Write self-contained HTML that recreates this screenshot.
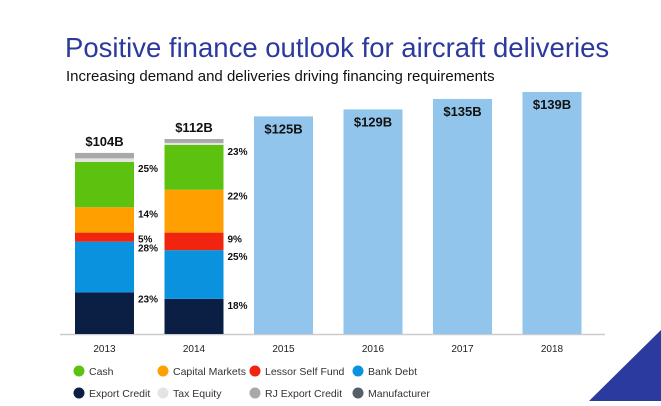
<!DOCTYPE html>
<html><head><meta charset="utf-8"><style>
body{margin:0;width:661px;height:401px;overflow:hidden;background:#fff;font-family:"Liberation Sans",sans-serif}
</style></head><body>
<svg width="661" height="401" xmlns="http://www.w3.org/2000/svg" id="svg">
<text x="65" y="57" font-size="27.5" fill="#2b3a9c">Positive finance outlook for aircraft deliveries</text>
<text x="66" y="81" font-size="15" fill="#111">Increasing demand and deliveries driving financing requirements</text>
<line x1="60" y1="334.5" x2="605" y2="334.5" stroke="#ccc" stroke-width="1.5"/>
<polygon points="589,401 661,330 661,401" fill="#2a3a9e"/>
<g id="bars"></g>
<g id="legend"></g>
</svg>
<script>
const years=["2013","2014","2015","2016","2017","2018"];
const totals=[104,112,125,129,135,139];
const segNames=["Export Credit","Bank Debt","Lessor Self Fund","Capital Markets","Cash","Tax Equity","RJ Export Credit"];
const seg2013=[23,28,5,14,25,2,3];
const seg2014=[18,25,9,22,23,1,2];
const segLabels2013=["23%","28%","5%","14%","25%","",""];
const segLabels2014=["18%","25%","9%","22%","23%","",""];
const legendNames=["Cash","Capital Markets","Lessor Self Fund","Bank Debt","Export Credit","Tax Equity","RJ Export Credit","Manufacturer"];
const colors={"Cash":"#5cc10f","Capital Markets":"#ffa000","Lessor Self Fund":"#f0240f","Bank Debt":"#0a92de","Export Credit":"#0b1f45","Tax Equity":"#e4e4e4","RJ Export Credit":"#a9a9a9","Manufacturer":"#555f66"};
const NS="http://www.w3.org/2000/svg";
const base=334, scale=242/139;
const y=v=>base-v*scale;
const x=i=>75+i*89.5;
const bw=59;
const g=document.getElementById('bars');
function mk(t,a){const e=document.createElementNS(NS,t);for(const k in a)e.setAttribute(k,a[k]);return e;}
const segs=[seg2013,seg2014], labs=[segLabels2013,segLabels2014];
years.forEach((yr,i)=>{
  const t=totals[i];
  if(i<2){
    let acc=0;const sum=segs[i].reduce((a,b)=>a+b,0);
    segs[i].forEach((p,j)=>{
      const v0=t*acc/sum, v1=t*(acc+p)/sum;acc+=p;
      const r=mk('rect',{x:x(i),y:y(v1),width:bw,height:y(v0)-y(v1),fill:colors[segNames[j]]});
      
      
      g.appendChild(r);
      if(labs[i][j]){
        const tx=mk('text',{x:x(i)+bw+4,y:y(v1)+10,'font-size':10,'font-weight':'bold',fill:'#111'});
        tx.textContent=labs[i][j];
        
        
        g.appendChild(tx);
      }
    });
    const tl=mk('text',{x:x(i)+bw/2,y:y(t)-7,'font-size':13,'font-weight':'bold','text-anchor':'middle',fill:'#111'});
    tl.textContent='$'+t+'B';
    
    
    g.appendChild(tl);
  } else {
    const r=mk('rect',{x:x(i),y:y(t),width:bw,height:y(0)-y(t),fill:'#92c5eb'});
    
    
    g.appendChild(r);
    const tl=mk('text',{x:x(i)+bw/2,y:y(t)+17,'font-size':13,'font-weight':'bold','text-anchor':'middle',fill:'#111'});
    tl.textContent='$'+t+'B';
    
    
    g.appendChild(tl);
  }
  const xl=mk('text',{x:x(i)+bw/2,y:352,'font-size':10,'text-anchor':'middle',fill:'#222'});
  xl.textContent=yr;
  
  
  g.appendChild(xl);
});
const lg=document.getElementById('legend');
const lx=[79,163,255,358];
legendNames.forEach((n,k)=>{
  const cx=lx[k%4], cy=k<4?371:393;
  const c=mk('circle',{cx:cx,cy:cy,r:5.5,fill:colors[n]});
  
  
  lg.appendChild(c);
  const t=mk('text',{x:cx+10,y:cy+4,'font-size':10.5,fill:'#333'});
  t.textContent=n;
  
  
  lg.appendChild(t);
});
</script>
</body></html>
